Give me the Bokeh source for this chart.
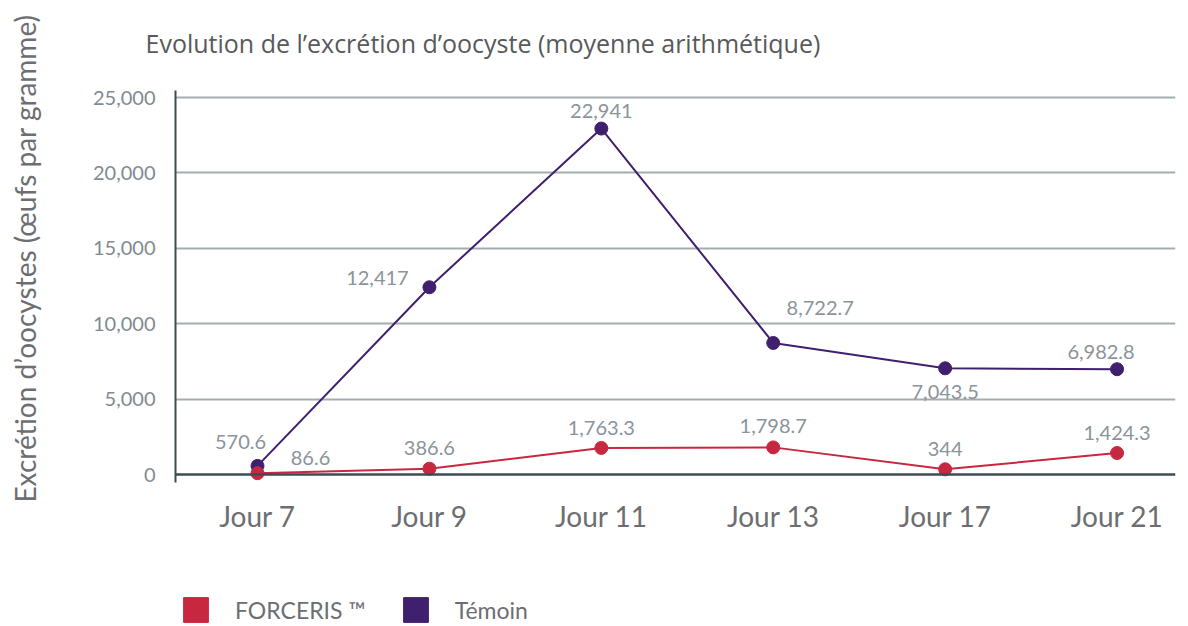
import math
from bokeh.plotting import figure
from bokeh.layouts import row, column
from bokeh.models import (Range1d, FixedTicker, NumeralTickFormatter, Span, Label, Title,
                          Legend, LegendItem, ColumnDataSource)
from bokeh.core.properties import value
from bokeh.embed import file_html
from bokeh.resources import INLINE

categories = ["Jour 7", "Jour 9", "Jour 11", "Jour 13", "Jour 17", "Jour 21"]
forceris = [86.6, 386.6, 1763.3, 1798.7, 344, 1424.3]
temoin = [570.6, 12417, 22941, 8722.7, 7043.5, 6982.8]
y_ticks = [0, 5000, 10000, 15000, 20000, 25000]

# label offsets (screen px, style only)
forceris_dx = [53, 0, 0, 0, 0, 0]
forceris_dy = [-15, -21, -20, -21, -20, -20]
temoin_dx = [-17, -52, 0, 47, 0, -16]
temoin_dy = [-24, -9, -18, -35, 24, -17]

RED = "#c8283f"
PURPLE = "#40206e"
FONT = "Lato"

W, H = 1184, 624
YLAB_W = 60            # left strip holding the rotated y label
TITLE_H = 84           # top strip holding the title
LEGEND_H = 34          # bottom strip holding the legend
MAIN_W = W - YLAB_W
MAIN_H = H - TITLE_H - LEGEND_H
FRAME_LEFT, FRAME_TOP, FRAME_BOTTOM, FRAME_RIGHT = 175, 90, 482, 1175


def fmt(v):
    v = float(v)
    if v.is_integer():
        return f"{int(v):,}"
    return f"{v:,.1f}"


def blank(width, height):
    f = figure(width=width, height=height, output_backend="svg", toolbar_location=None,
               x_axis_type=None, y_axis_type=None, x_range=Range1d(0, 1),
               y_range=Range1d(0, 1), min_border=0)
    f.outline_line_color = None
    f.grid.visible = False
    return f


idx = list(range(len(categories)))

# ---------------- main chart ----------------
p = figure(width=MAIN_W, height=MAIN_H, output_backend="svg", toolbar_location=None,
           x_range=Range1d(-0.477, 5.34), y_range=Range1d(-530, 25464),
           min_border_left=FRAME_LEFT - YLAB_W,
           min_border_right=W - FRAME_RIGHT,
           min_border_top=FRAME_TOP - TITLE_H,
           min_border_bottom=TITLE_H + MAIN_H - FRAME_BOTTOM)
p.outline_line_color = None
p.background_fill_color = "white"

p.xaxis.ticker = FixedTicker(ticks=idx)
p.xaxis.major_label_overrides = {i: c for i, c in zip(idx, categories)}
p.xaxis.axis_line_color = None
p.xaxis.major_tick_line_color = None
p.xaxis.minor_tick_line_color = None
p.xaxis.major_label_text_font = FONT
p.xaxis.major_label_text_font_size = "28px"
p.xaxis.major_label_text_color = "#6d6e71"
p.xaxis.major_label_standoff = 10

p.yaxis.ticker = FixedTicker(ticks=y_ticks)
p.yaxis.formatter = NumeralTickFormatter(format="0,0")
p.yaxis.axis_line_color = "#3e4b50"
p.yaxis.axis_line_width = 2
p.yaxis.major_tick_line_color = None
p.yaxis.minor_tick_line_color = None
p.yaxis.major_label_text_font = FONT
p.yaxis.major_label_text_font_size = "20px"
p.yaxis.major_label_text_color = "#7f8b91"
p.yaxis.major_label_standoff = 14

p.xgrid.grid_line_color = None
p.ygrid.ticker = FixedTicker(ticks=y_ticks[1:])
p.ygrid.grid_line_color = "#a3adb0"
p.ygrid.grid_line_width = 2

p.add_layout(Span(location=0, dimension="width", line_color="#3e4b50", line_width=2.5))

p.line(idx, temoin, line_color=PURPLE, line_width=2)
p.scatter(idx, temoin, size=13, fill_color=PURPLE, line_color=PURPLE)
p.line(idx, forceris, line_color=RED, line_width=2)
p.scatter(idx, forceris, size=13, fill_color=RED, line_color=RED)

lbl_src_t = ColumnDataSource(dict(x=idx, y=temoin, t=[fmt(v) for v in temoin],
                                  dx=temoin_dx, dy=temoin_dy))
lbl_src_f = ColumnDataSource(dict(x=idx, y=forceris, t=[fmt(v) for v in forceris],
                                  dx=forceris_dx, dy=forceris_dy))
for src in (lbl_src_t, lbl_src_f):
    p.text(x="x", y="y", text="t", x_offset="dx", y_offset="dy", source=src,
           text_align="center", text_baseline="middle", text_font=value(FONT),
           text_font_size="20px", text_color="#8a949a")

# ---------------- title strip (frame aligned with the main frame) ----------------
t_fig = blank(MAIN_W, TITLE_H)
t_fig.add_layout(Title(text="Evolution de l\u2019excr\u00e9tion d\u2019oocyste (moyenne arithm\u00e9tique)",
                       text_font="Open Sans", text_font_size="25px", text_font_style="normal",
                       text_color="#58595b", align="left", offset=145 - FRAME_LEFT,
                       standoff=46), "above")

# ---------------- y label strip ----------------
y_fig = blank(YLAB_W, H)
y_fig.add_layout(Label(x=24, y=H - 258, x_units="screen", y_units="screen",
                       angle=math.pi / 2,
                       text="Excr\u00e9tion d\u2019oocystes (\u0153ufs par gramme)",
                       text_font=FONT, text_font_size="28px", text_color="#6d6e71",
                       text_baseline="middle", text_align="center"))

# ---------------- legend strip (frame aligned with the main frame) ----------------
l_fig = blank(MAIN_W, LEGEND_H)
r_f = l_fig.quad(left=idx, right=idx, top=forceris, bottom=[0] * len(idx),
                 fill_color=RED, line_color=RED, visible=False)
r_t = l_fig.quad(left=idx, right=idx, top=temoin, bottom=[0] * len(idx),
                 fill_color=PURPLE, line_color=PURPLE, visible=False)
legend = Legend(items=[LegendItem(label="FORCERIS \u2122", renderers=[r_f]),
                       LegendItem(label="T\u00e9moin", renderers=[r_t])],
                orientation="horizontal", location=(183 - FRAME_LEFT - 3, -1),
                glyph_width=31, glyph_height=31, label_standoff=24, spacing=34,
                padding=0, margin=0, border_line_color=None, background_fill_alpha=0,
                inactive_fill_alpha=0,
                label_text_font=FONT, label_text_font_size="23px",
                label_text_color="#6d6e71")
l_fig.add_layout(legend)

layout = row(y_fig, column(t_fig, p, l_fig, spacing=0), spacing=0)
open("out.html", "w").write(file_html(layout, INLINE))
